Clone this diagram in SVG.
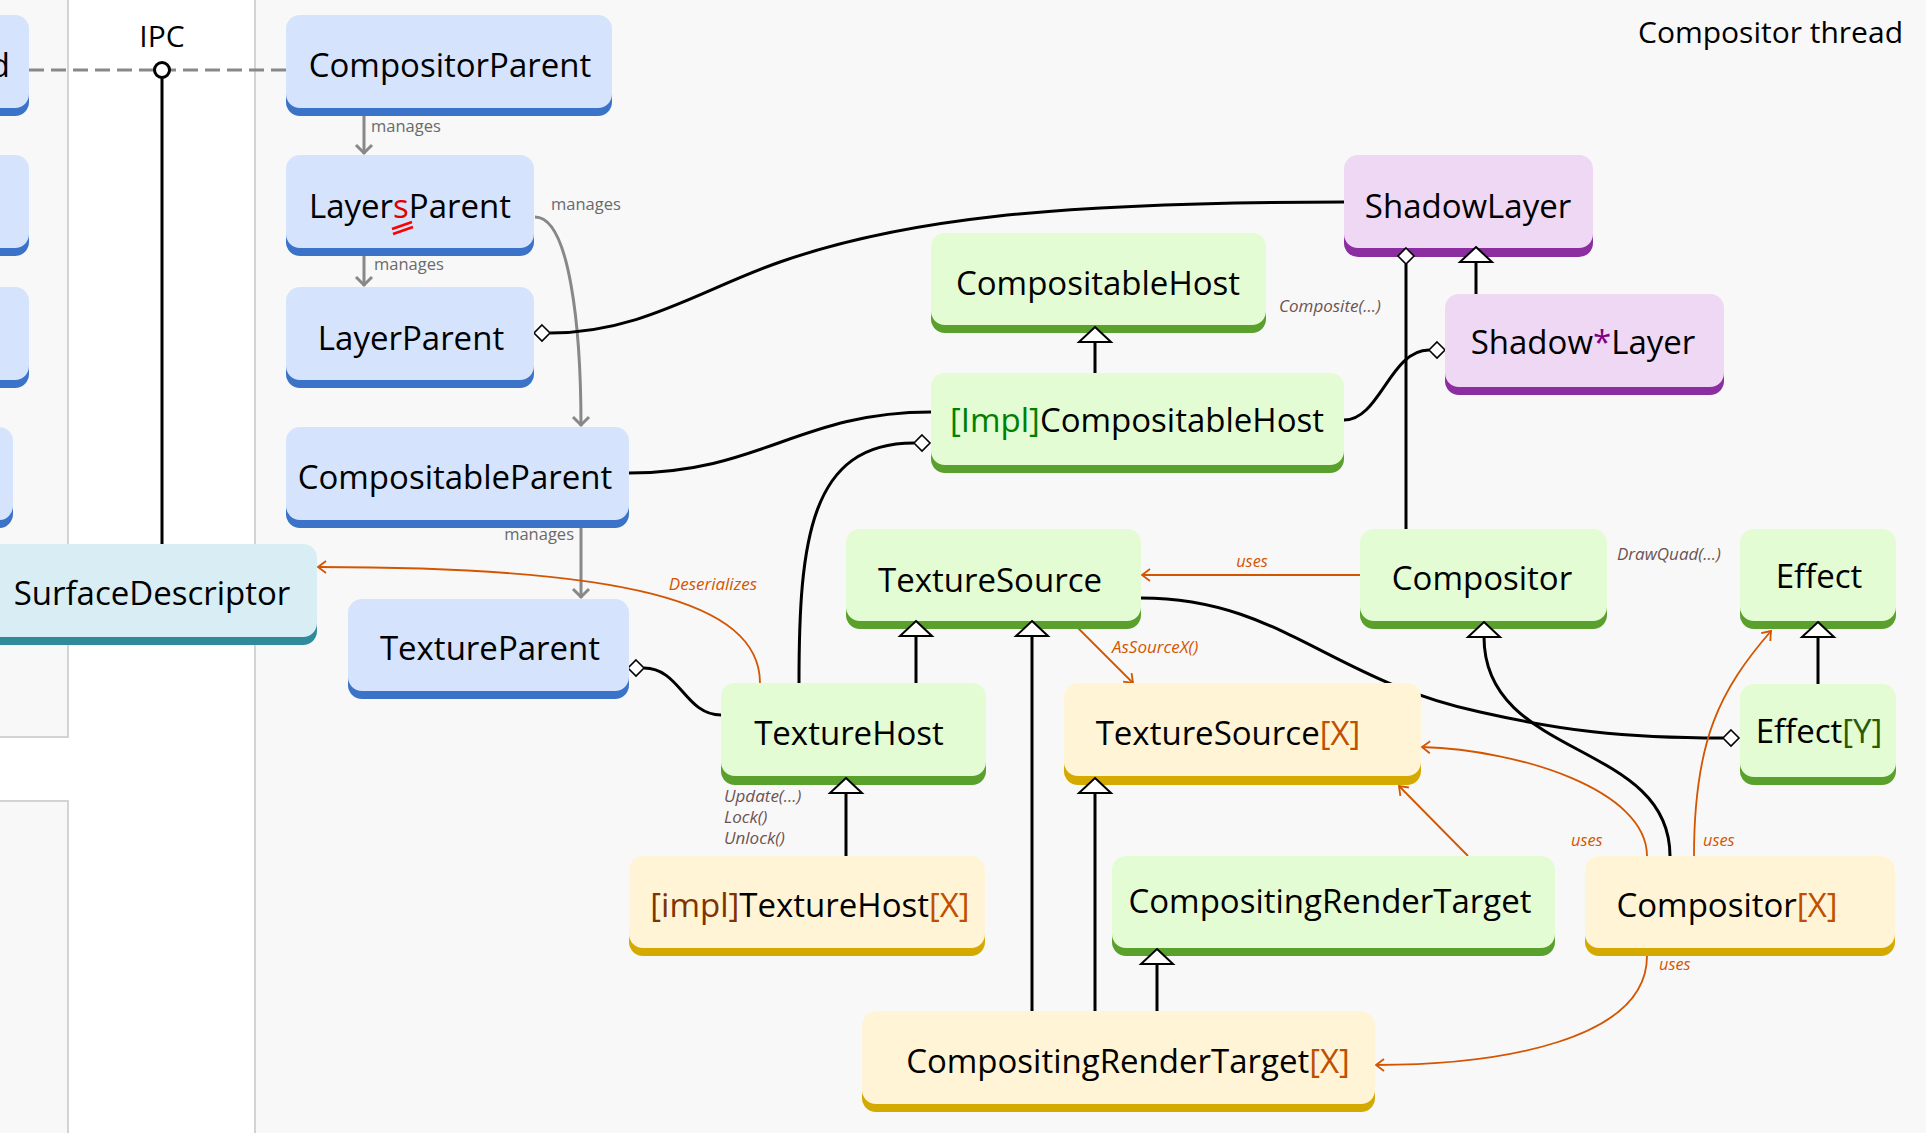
<svg xmlns="http://www.w3.org/2000/svg" xmlns:xlink="http://www.w3.org/1999/xlink" width="1926" height="1133" viewBox="0 0 1926 1133">
<style>
text{font-family:"Open Sans","Noto Sans","DejaVu Sans",sans-serif}
.lbl{font-size:33px;fill:#000;text-anchor:middle}
.title{font-size:30px;fill:#000}
.mg{font-size:16.5px;fill:#6a6a6a}
.meth{font-size:17px;font-style:italic;fill:#6c5353}
.ol{font-size:17px;font-style:italic;fill:#d45500}
.ol.us{font-size:16.3px}
.lane{fill:#f8f8f8;stroke:#d3d3d3;stroke-width:2}
.blue .band{fill:#3b73c8}.blue .face{fill:#d5e4fc}
.teal .band{fill:#2f8a9c}.teal .face{fill:#d8eef4}
.green .band{fill:#5aa02c}.green .face{fill:#e3fcd4}
.yellow .band{fill:#d4aa00}.yellow .face{fill:#fff5d6}
.purple .band{fill:#8b2ea0}.purple .face{fill:#efd8f4}
.c{fill:none;stroke:#000;stroke-width:3}
.u{fill:none;stroke:#d45500;stroke-width:1.8}
.m{fill:none;stroke:#888;stroke-width:3}
.ipc{fill:none;stroke:#888;stroke-width:3;stroke-dasharray:15 7}
.dia{fill:#fff;stroke:#000;stroke-width:1.6}
.tri{fill:#fff;stroke:#000;stroke-width:2}
.impl{fill:#008000}.x{fill:#c05000}.implb{fill:#803300}.y{fill:#2d5a00}.star{fill:#800080}
</style>
<defs>
<marker id="ah-o" viewBox="0 0 12 14" refX="10" refY="7" markerWidth="12" markerHeight="14" markerUnits="userSpaceOnUse" orient="auto">
<path d="M2,1 L10,7 L2,13" fill="none" stroke="#d45500" stroke-width="1.8"/>
</marker>
<marker id="ah-g" viewBox="0 0 14 20" refX="11" refY="10" markerWidth="14" markerHeight="20" markerUnits="userSpaceOnUse" orient="auto">
<path d="M2,2 L10,10 L2,18" fill="none" stroke="#888" stroke-width="3"/>
</marker>
<polygon id="tri" class="tri" points="0,0 16,15 -16,15"/>
<polygon id="dia" class="dia" points="0,-8 8,0 0,8 -8,0"/>
</defs>

<g id="background">
<rect x="0" y="0" width="1926" height="1133" fill="#ffffff"/>
<rect class="lane" x="-5" y="-5" width="73" height="742"/>
<rect class="lane" x="-5" y="801" width="73" height="340"/>
<rect class="lane" x="255" y="-5" width="1680" height="1145"/>
<text class="title" x="1903" y="43" text-anchor="end">Compositor thread</text>
<text class="title" x="162" y="47" text-anchor="middle">IPC</text>
</g>

<g id="child-nodes">
<g id="n-child1" class="blue"><rect class="band" x="-20" y="23" width="49" height="93" rx="14"/><rect class="face" x="-20" y="15" width="49" height="93" rx="14"/><text class="lbl" x="10" y="77" style="text-anchor:end">d</text></g>
<g id="n-child2" class="blue"><rect class="band" x="-20" y="163" width="49" height="93" rx="14"/><rect class="face" x="-20" y="155" width="49" height="93" rx="14"/></g>
<g id="n-child3" class="blue"><rect class="band" x="-20" y="295" width="49" height="93" rx="14"/><rect class="face" x="-20" y="287" width="49" height="93" rx="14"/></g>
<g id="n-child4" class="blue"><rect class="band" x="-20" y="435" width="33" height="93" rx="14"/><rect class="face" x="-20" y="427" width="33" height="93" rx="14"/></g>
</g>

<g id="connectors">
<path class="ipc" d="M29,70 L286,70"/>
<path class="c" d="M162,78 L162,544"/>
<circle cx="162" cy="70" r="7.5" fill="#fff" stroke="#000" stroke-width="3"/>

<path class="m" d="M364,116 L364,154" marker-end="url(#ah-g)"/>
<path class="m" d="M364,256 L364,286" marker-end="url(#ah-g)"/>
<path class="m" d="M535,217 C570,217 581,330 581,426" marker-end="url(#ah-g)"/>
<path class="m" d="M581,528 L581,598" marker-end="url(#ah-g)"/>

<path class="c" d="M550,333 C640,333 700,290 780,262 C900,220 1050,202 1344,202"/>
<use xlink:href="#dia" href="#dia" x="542" y="333"/>

<path class="c" d="M629,473 C760,473 800,412 931,412"/>

<path class="c" d="M799,683 C799,540 810,443 914,443"/>
<use xlink:href="#dia" href="#dia" x="922" y="443"/>

<path class="c" d="M644,668 C680,668 685,715 721,715"/>
<use xlink:href="#dia" href="#dia" x="636" y="668"/>

<path class="c" d="M1095,373 L1095,342"/>

<path class="c" d="M1406,264 L1406,529"/>

<path class="c" d="M1476,294 L1476,262"/>

<path class="c" d="M1344,420 C1380,420 1390,350 1429,350"/>
<use xlink:href="#dia" href="#dia" x="1437" y="350"/>

<path class="c" d="M1141,598 C1280,598 1330,680 1480,712 C1560,730 1620,738 1723,738"/>
<use xlink:href="#dia" href="#dia" x="1731" y="738"/>

<path class="c" d="M916,683 L916,636"/>
<path class="c" d="M1032,1011 L1032,636"/>
<path class="c" d="M1818,684 L1818,637"/>
<path class="c" d="M1670,856 C1670,740 1484,760 1484,637"/>
<path class="c" d="M846,856 L846,793"/>
<path class="c" d="M1095,1011 L1095,793"/>
<path class="c" d="M1157,1011 L1157,964"/>

<path class="u" d="M760,683 C760,600 620,567 318,567" marker-end="url(#ah-o)"/>
<path class="u" d="M1360,575 L1142,575" marker-end="url(#ah-o)"/>
<path class="u" d="M1072,622 L1133,683" marker-end="url(#ah-o)"/>
<path class="u" d="M1468,856 L1399,786" marker-end="url(#ah-o)"/>
<path class="u" d="M1647,856 C1647,790 1520,750 1422,747" marker-end="url(#ah-o)"/>
<path class="u" d="M1694,856 C1694,740 1720,690 1771,631" marker-end="url(#ah-o)"/>
<path class="u" d="M1647,956 C1647,1040 1500,1065 1376,1065" marker-end="url(#ah-o)"/>
</g>

<g id="connector-labels">
<text class="mg" x="371" y="132">manages</text>
<text class="mg" x="374" y="270">manages</text>
<text class="mg" x="551" y="210">manages</text>
<text class="mg" x="574" y="540" text-anchor="end">manages</text>
<text class="ol" x="757" y="590" text-anchor="end">Deserializes</text>
<text class="ol us" x="1252" y="567" text-anchor="middle">uses</text>
<text class="ol" x="1112" y="653">AsSourceX()</text>
<text class="ol us" x="1571" y="846">uses</text>
<text class="ol us" x="1703" y="846">uses</text>
<text class="ol us" x="1659" y="970">uses</text>
<text class="meth" x="1279" y="312">Composite(...)</text>
<text class="meth" x="1617" y="560">DrawQuad(...)</text>
<text class="meth" x="724" y="802">Update(...)</text>
<text class="meth" x="724" y="823">Lock()</text>
<text class="meth" x="724" y="844">Unlock()</text>
</g>

<g id="n-compositorparent" class="blue"><rect class="band" x="286" y="23" width="326" height="93" rx="14"/><rect class="face" x="286" y="15" width="326" height="93" rx="14"/><text class="lbl" x="450" y="77">CompositorParent</text></g>
<g id="n-layersparent" class="blue"><rect class="band" x="286" y="163" width="248" height="93" rx="14"/><rect class="face" x="286" y="155" width="248" height="93" rx="14"/><text class="lbl" x="410" y="218">Layer<tspan fill="#e00000">s</tspan>Parent</text>
<path d="M392,229 L412,222 M393,234 L413,227" stroke="#ff0000" stroke-width="2.5" fill="none"/></g>
<g id="n-layerparent" class="blue"><rect class="band" x="286" y="295" width="248" height="93" rx="14"/><rect class="face" x="286" y="287" width="248" height="93" rx="14"/><text class="lbl" x="411" y="350">LayerParent</text></g>
<g id="n-compositableparent" class="blue"><rect class="band" x="286" y="435" width="343" height="93" rx="14"/><rect class="face" x="286" y="427" width="343" height="93" rx="14"/><text class="lbl" x="455" y="489">CompositableParent</text></g>
<g id="n-textureparent" class="blue"><rect class="band" x="348" y="607" width="281" height="92" rx="14"/><rect class="face" x="348" y="599" width="281" height="92" rx="14"/><text class="lbl" x="490" y="660">TextureParent</text></g>
<g id="n-surfacedescriptor" class="teal"><rect class="band" x="-20" y="552" width="337" height="93" rx="14"/><rect class="face" x="-20" y="544" width="337" height="93" rx="14"/><text class="lbl" x="152" y="605">SurfaceDescriptor</text></g>

<g id="n-compositablehost" class="green"><rect class="band" x="931" y="241" width="335" height="92" rx="14"/><rect class="face" x="931" y="233" width="335" height="92" rx="14"/><text class="lbl" x="1098" y="295">CompositableHost</text></g>
<g id="n-implcompositablehost" class="green"><rect class="band" x="931" y="381" width="413" height="92" rx="14"/><rect class="face" x="931" y="373" width="413" height="92" rx="14"/><text class="lbl" x="1137" y="432"><tspan class="impl">[Impl]</tspan>CompositableHost</text></g>
<g id="n-shadowlayer" class="purple"><rect class="band" x="1344" y="164" width="249" height="93" rx="14"/><rect class="face" x="1344" y="155" width="249" height="93" rx="14"/><text class="lbl" x="1468" y="218">ShadowLayer</text></g>
<g id="n-shadowstarlayer" class="purple"><rect class="band" x="1445" y="302" width="279" height="93" rx="14"/><rect class="face" x="1445" y="294" width="279" height="93" rx="14"/><text class="lbl" x="1583" y="354">Shadow<tspan class="star">*</tspan>Layer</text></g>
<g id="n-texturesource" class="green"><rect class="band" x="846" y="537" width="295" height="92" rx="14"/><rect class="face" x="846" y="529" width="295" height="92" rx="14"/><text class="lbl" x="990" y="592">TextureSource</text></g>
<g id="n-compositor" class="green"><rect class="band" x="1360" y="537" width="247" height="92" rx="14"/><rect class="face" x="1360" y="529" width="247" height="92" rx="14"/><text class="lbl" x="1482" y="590">Compositor</text></g>
<g id="n-effect" class="green"><rect class="band" x="1740" y="537" width="156" height="92" rx="14"/><rect class="face" x="1740" y="529" width="156" height="92" rx="14"/><text class="lbl" x="1819" y="588">Effect</text></g>
<g id="n-texturehost" class="green"><rect class="band" x="721" y="692" width="265" height="93" rx="14"/><rect class="face" x="721" y="683" width="265" height="93" rx="14"/><text class="lbl" x="849" y="745">TextureHost</text></g>
<g id="n-texturesourcex" class="yellow"><rect class="band" x="1064" y="692" width="357" height="93" rx="14"/><rect class="face" x="1064" y="683" width="357" height="93" rx="14"/><text class="lbl" x="1228" y="745">TextureSource<tspan class="x">[X]</tspan></text></g>
<g id="n-effecty" class="green"><rect class="band" x="1740" y="692" width="156" height="93" rx="14"/><rect class="face" x="1740" y="684" width="156" height="93" rx="14"/><text class="lbl" x="1819" y="743">Effect<tspan class="y">[Y]</tspan></text></g>
<g id="n-impltexturehostx" class="yellow"><rect class="band" x="629" y="864" width="356" height="92" rx="14"/><rect class="face" x="629" y="856" width="356" height="92" rx="14"/><text class="lbl" x="810" y="917"><tspan class="implb">[impl]</tspan>TextureHost<tspan class="x">[X]</tspan></text></g>
<g id="n-compositingrendertarget" class="green"><rect class="band" x="1112" y="864" width="443" height="92" rx="14"/><rect class="face" x="1112" y="856" width="443" height="92" rx="14"/><text class="lbl" x="1330" y="913">CompositingRenderTarget</text></g>
<g id="n-compositorx" class="yellow"><rect class="band" x="1585" y="864" width="310" height="92" rx="14"/><rect class="face" x="1585" y="856" width="310" height="92" rx="14"/><text class="lbl" x="1727" y="917">Compositor<tspan class="x">[X]</tspan></text></g>
<g id="n-compositingrendertargetx" class="yellow"><rect class="band" x="862" y="1019" width="513" height="93" rx="14"/><rect class="face" x="862" y="1011" width="513" height="93" rx="14"/><text class="lbl" x="1128" y="1073">CompositingRenderTarget<tspan class="x">[X]</tspan></text></g>

<g id="connector-ends">
<use xlink:href="#tri" href="#tri" x="1095" y="327"/>
<use xlink:href="#tri" href="#tri" x="1476" y="247"/>
<use xlink:href="#dia" href="#dia" x="1406" y="256"/>
<use xlink:href="#tri" href="#tri" x="916" y="621"/>
<use xlink:href="#tri" href="#tri" x="1032" y="621"/>
<use xlink:href="#tri" href="#tri" x="1484" y="622"/>
<use xlink:href="#tri" href="#tri" x="1818" y="622"/>
<use xlink:href="#tri" href="#tri" x="846" y="778"/>
<use xlink:href="#tri" href="#tri" x="1095" y="778"/>
<use xlink:href="#tri" href="#tri" x="1157" y="949"/>
</g>
</svg>
